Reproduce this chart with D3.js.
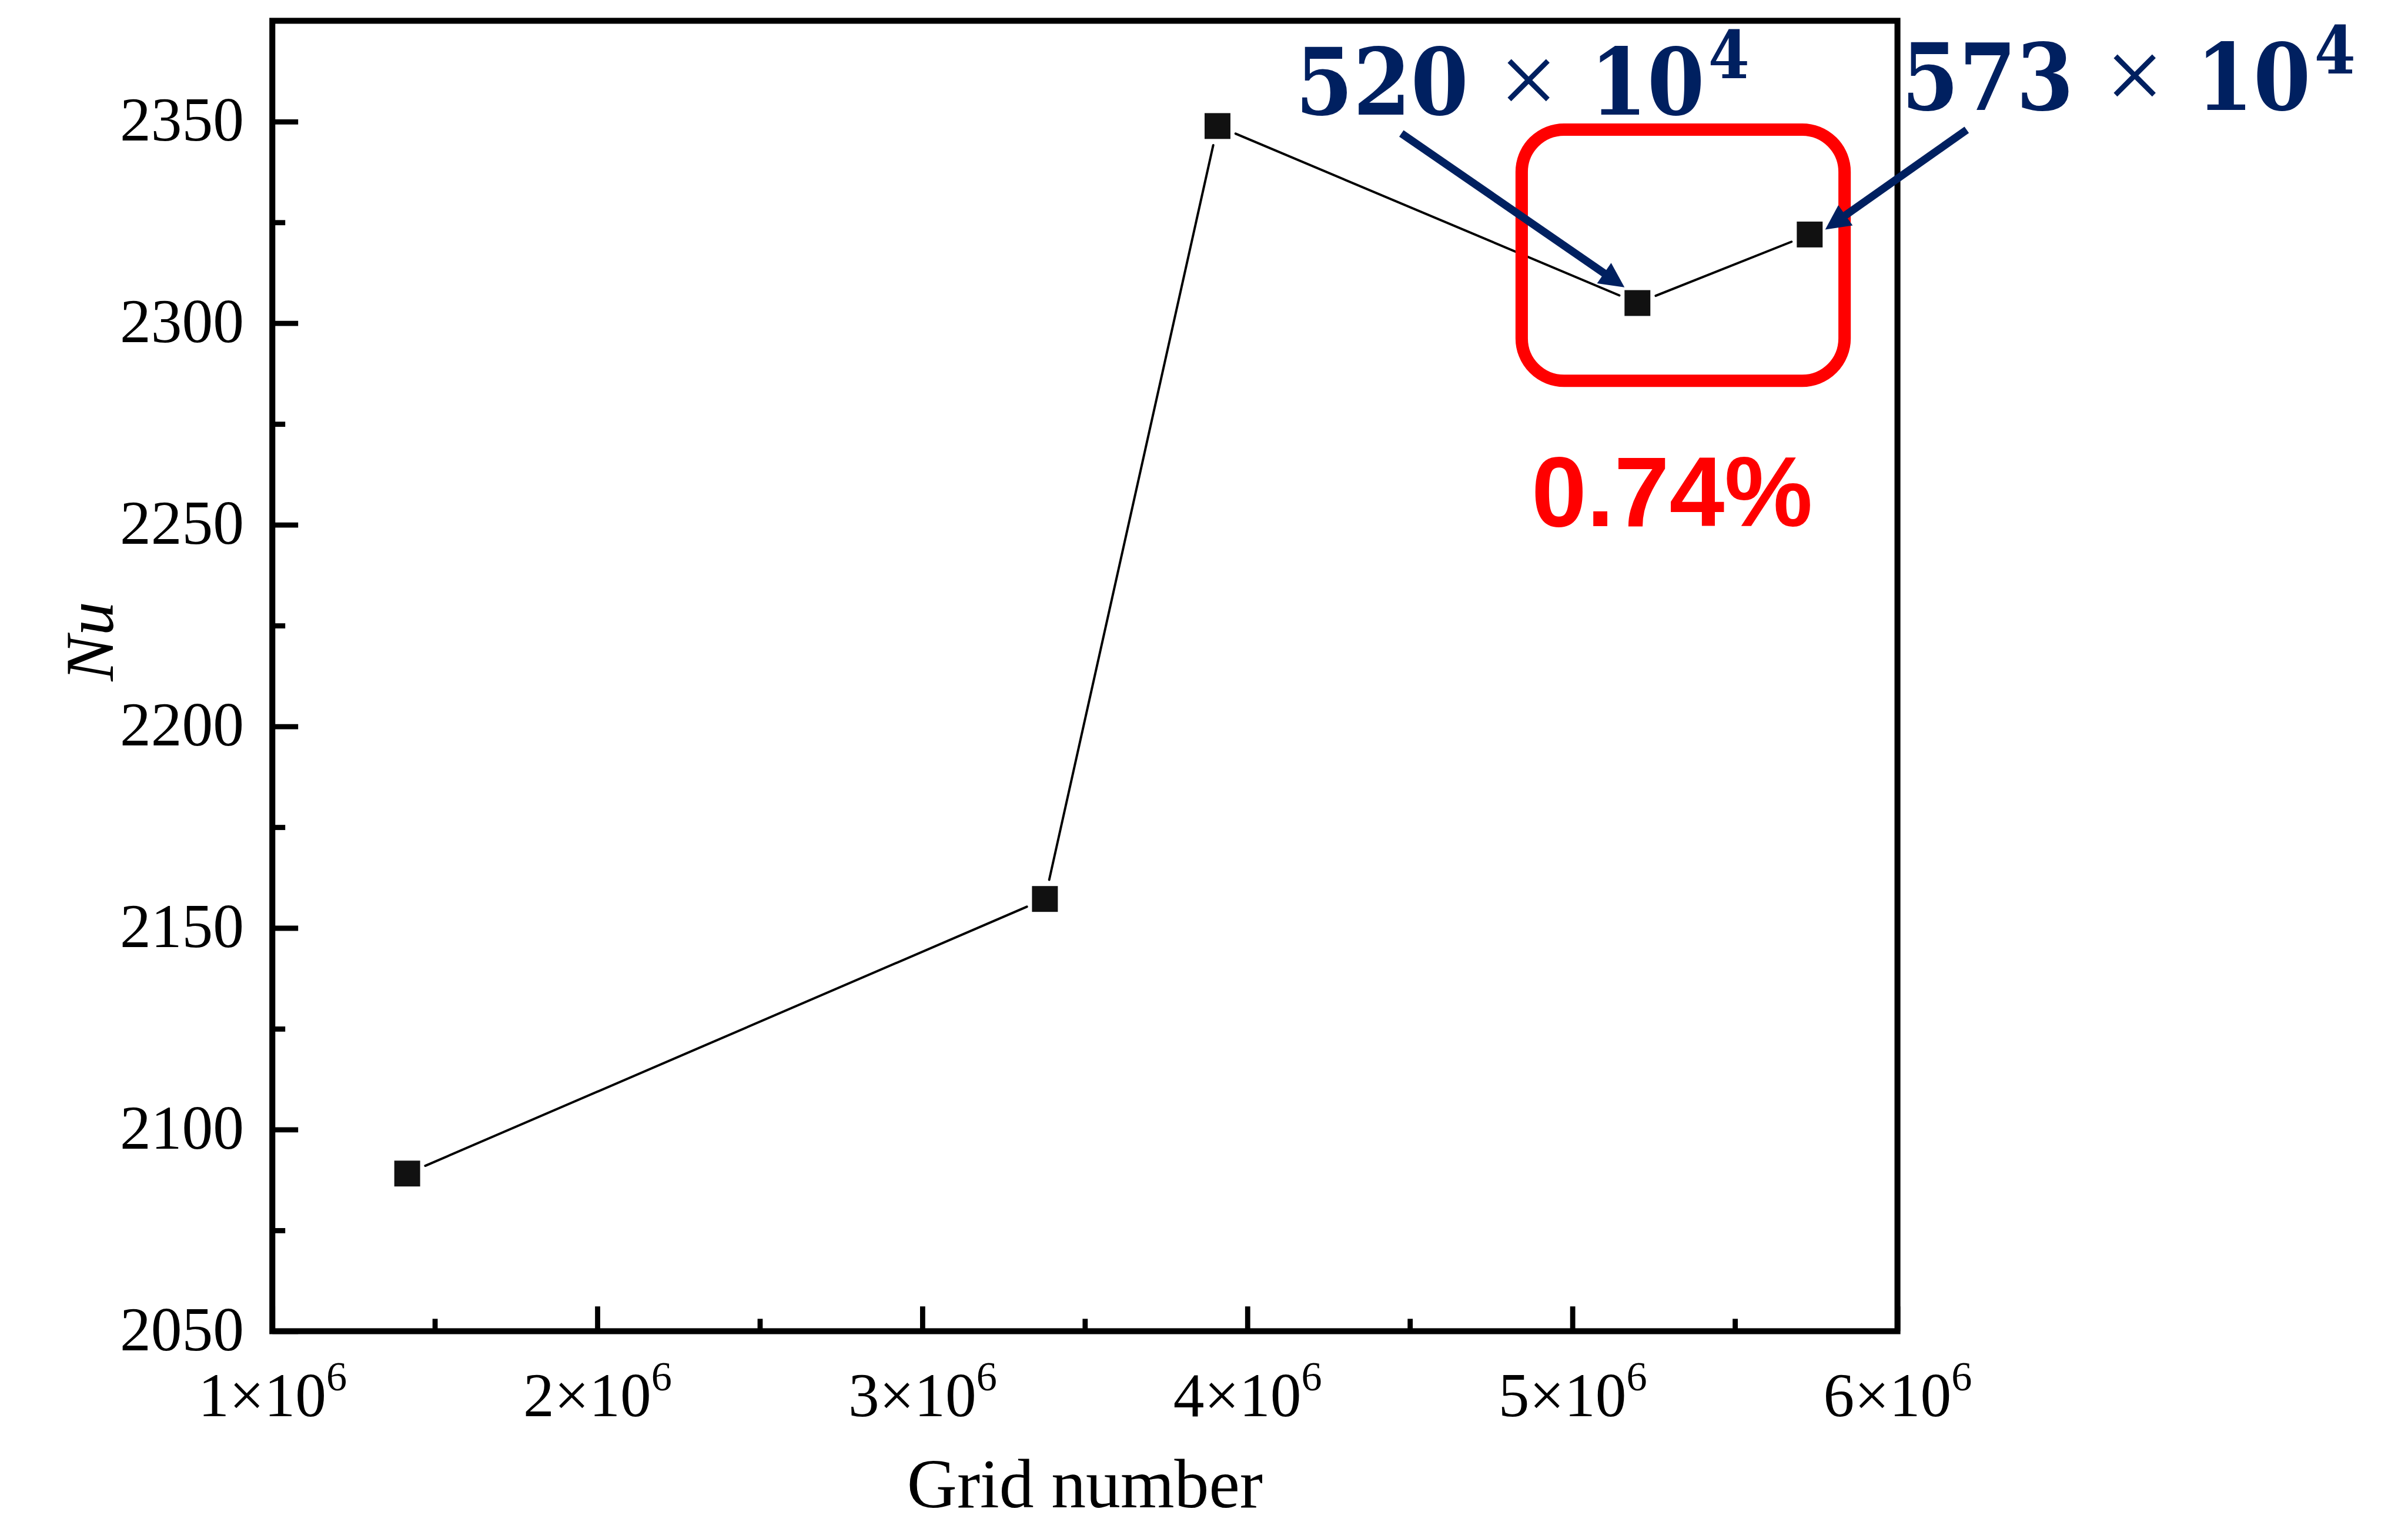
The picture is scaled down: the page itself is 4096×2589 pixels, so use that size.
<!DOCTYPE html>
<html>
<head>
<meta charset="utf-8">
<script src="https://cdn.jsdelivr.net/npm/d3@7"></script>
<style>
  html, body { margin: 0; padding: 0; background: #fff; }
  svg { display: block; }
</style>
</head>
<body>
<svg id="chart"></svg>
<script>
// data
const gridNumber = [1.415e6, 3.377e6, 3.908e6, 5.20e6, 5.73e6];
const nuValues = [2089.1, 2157.2, 2348.9, 2305.0, 2322.0];

const xTicks = [1e6, 2e6, 3e6, 4e6, 5e6, 6e6];
const xMinor = [1.5e6, 2.5e6, 3.5e6, 4.5e6, 5.5e6];
const yTicks = [2050, 2100, 2150, 2200, 2250, 2300, 2350];
const yMinor = [2075, 2125, 2175, 2225, 2275, 2325];

const xTitle = "Grid number";
const yTitle = "Nu";
const changeLabel = "0.74%";
// annotations: index of point, mantissa, exponent
const notes = [
  {i: 3, base: "520", exp: "4"},
  {i: 4, base: "573", exp: "4"}
];

// drawn in the reference pixel space, then shrunk by the viewBox
const W = 4660, H = 2945;
const svg = d3.select("#chart")
  .attr("width", 4096)
  .attr("height", 2589)
  .attr("viewBox", `0 0 ${W} ${H}`);

svg.append("rect").attr("width", W).attr("height", H).attr("fill", "#fff");

const mLeft = 527, mRight = 3672, mTop = 40, mBottom = 2576;

const x = d3.scaleLinear().domain([1e6, 6e6]).range([mLeft, mRight]);
const y = d3.scaleLinear().domain([2050, 2375]).range([mBottom, mTop]);

const serif = "'Liberation Serif', 'Times New Roman', serif";
const navy = "#002060";

// y axis (ticks inward)
const gy = svg.append("g").attr("transform", `translate(${mLeft},0)`);
gy.call(d3.axisLeft(y).tickValues(yTicks).tickFormat(d3.format("d"))
  .tickSizeInner(-50).tickSizeOuter(0).tickPadding(55));
gy.append("g").call(d3.axisLeft(y).tickValues(yMinor).tickSizeInner(-25).tickSizeOuter(0).tickFormat(""));
gy.selectAll(".domain").remove();
gy.selectAll("line").attr("stroke", "#000").attr("stroke-width", 10);
gy.selectAll("text")
  .attr("font-family", serif)
  .attr("font-size", 120)
  .attr("fill", "#000")
  .attr("dy", null)
  .attr("y", 36);

// x axis (ticks inward)
const gx = svg.append("g").attr("transform", `translate(0,${mBottom})`);
gx.call(d3.axisBottom(x).tickValues(xTicks).tickSizeInner(-48).tickSizeOuter(0).tickPadding(0));
gx.append("g").call(d3.axisBottom(x).tickValues(xMinor).tickSizeInner(-24).tickSizeOuter(0).tickFormat(""));
gx.selectAll(".domain").remove();
gx.selectAll("line").attr("stroke", "#000").attr("stroke-width", 10);
gx.selectAll(".tick text").each(function(d) {
  const t = d3.select(this);
  if (t.text() === "") return;
  t.text(null)
    .attr("dy", null)
    .attr("y", 164)
    .attr("font-family", serif)
    .attr("font-size", 120)
    .attr("fill", "#000");
  t.append("tspan").text(`${d / 1e6}×10`);
  t.append("tspan").attr("dy", -50).attr("font-size", 80).text("6");
});

// frame
svg.append("rect")
  .attr("x", mLeft).attr("y", mTop)
  .attr("width", mRight - mLeft).attr("height", mBottom - mTop)
  .attr("fill", "none")
  .attr("stroke", "#000")
  .attr("stroke-width", 11.5);

// axis titles
svg.append("text")
  .attr("x", (mLeft + mRight) / 2)
  .attr("y", 2917)
  .attr("text-anchor", "middle")
  .attr("font-family", serif)
  .attr("font-size", 134)
  .text(xTitle);

svg.append("text")
  .attr("transform", "translate(218,1241) rotate(-90)")
  .attr("text-anchor", "middle")
  .attr("font-family", serif)
  .attr("font-style", "italic")
  .attr("font-size", 132)
  .text(yTitle);

// data line, broken near each symbol
const pts = gridNumber.map((g, i) => [x(g), y(nuValues[i])]);
const gap = 38;
const segs = d3.pairs(pts).map(([p, q]) => {
  const dx = q[0] - p[0], dy = q[1] - p[1];
  const L = Math.hypot(dx, dy);
  const ux = dx / L, uy = dy / L;
  return [p[0] + ux * gap, p[1] + uy * gap, q[0] - ux * gap, q[1] - uy * gap];
});
svg.append("g").selectAll("line")
  .data(segs)
  .join("line")
  .attr("x1", d => d[0]).attr("y1", d => d[1])
  .attr("x2", d => d[2]).attr("y2", d => d[3])
  .attr("stroke", "#000")
  .attr("stroke-width", 4.5)
  .attr("stroke-linecap", "round");

const ms = 50;
svg.append("g").selectAll("rect")
  .data(pts)
  .join("rect")
  .attr("x", d => d[0] - ms / 2)
  .attr("y", d => d[1] - ms / 2)
  .attr("width", ms).attr("height", ms)
  .attr("fill", "#111");

// red rounded box round the last two points
const pA = pts[3], pB = pts[4];
svg.append("rect")
  .attr("x", pA[0] - 224)
  .attr("y", pB[1] - 203)
  .attr("width", (pB[0] + 67.5) - (pA[0] - 224))
  .attr("height", (pA[1] + 150.5) - (pB[1] - 203))
  .attr("rx", 82).attr("ry", 82)
  .attr("fill", "none")
  .attr("stroke", "#ff0000")
  .attr("stroke-width", 24);

svg.append("text")
  .attr("x", pA[0] + 67)
  .attr("y", 1018)
  .attr("text-anchor", "middle")
  .attr("font-family", "'Liberation Sans', Arial, sans-serif")
  .attr("font-weight", "bold")
  .attr("font-size", 192)
  .attr("fill", "#ff0000")
  .text(changeLabel);

// arrows from the labels to the points
const arrows = [
  {from: [2712, 258], tip: [pA[0] - 25, pA[1] - 30.5]},
  {from: [3806, 251], tip: [pB[0] + 30, pB[1] - 9.6]}
];
const headL = 48, headW = 24;
arrows.forEach(a => {
  const dx = a.tip[0] - a.from[0], dy = a.tip[1] - a.from[1];
  const L = Math.hypot(dx, dy);
  const ux = dx / L, uy = dy / L;
  const bx = a.tip[0] - ux * headL, by = a.tip[1] - uy * headL;
  svg.append("line")
    .attr("x1", a.from[0]).attr("y1", a.from[1])
    .attr("x2", bx + ux * 4).attr("y2", by + uy * 4)
    .attr("stroke", navy)
    .attr("stroke-width", 15);
  svg.append("path")
    .attr("d", `M${a.tip[0]},${a.tip[1]}L${bx - uy * headW},${by + ux * headW}L${bx + uy * headW},${by - ux * headW}Z`)
    .attr("fill", navy);
});

// labels "520 × 10^4", "573 × 10^4"
const labelPos = [
  {x0: 2507, len: 335, xc: 2958, x10: 3077, base: 222, ebase: 151},
  {x0: 3680, len: 333, xc: 4131, x10: 4250, base: 212, ebase: 142}
];
const lab = "'DejaVu Serif', 'Liberation Serif', serif";
notes.forEach((n, k) => {
  const p = labelPos[k];
  const g = svg.append("g").attr("fill", navy).attr("font-family", lab).attr("font-weight", "bold");
  g.append("text").attr("x", p.x0).attr("y", p.base)
    .attr("font-size", 178)
    .attr("textLength", p.len).attr("lengthAdjust", "spacingAndGlyphs")
    .text(n.base);
  g.append("text").attr("x", p.xc).attr("y", p.base)
    .attr("text-anchor", "middle")
    .attr("font-family", serif)
    .attr("font-weight", "normal")
    .attr("font-size", 200)
    .text("×");
  const pw = g.append("text")
    .attr("transform", `translate(${p.x10},${p.base}) scale(0.895,1)`)
    .attr("font-size", 178);
  pw.append("tspan").text("10");
  pw.append("tspan")
    .attr("dx", 8)
    .attr("dy", p.ebase - p.base)
    .attr("font-size", 128)
    .text(n.exp);
});
</script>
</body>
</html>
